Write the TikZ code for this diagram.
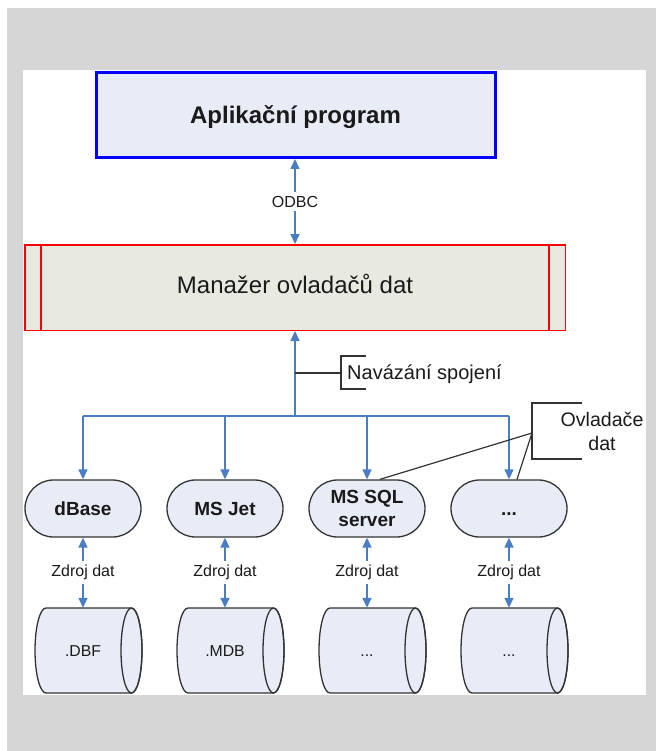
\documentclass[tikz,border=0pt]{standalone}
\usepackage{fontspec}
\setmainfont{Liberation Sans}
\usetikzlibrary{arrows.meta,shapes.misc}
\definecolor{bggray}{HTML}{D6D6D6}
\definecolor{appfill}{HTML}{E8ECF6}
\definecolor{mgrfill}{HTML}{E8E9E0}
\definecolor{linkblue}{HTML}{4A7EC0}
\definecolor{shapefill}{HTML}{E8ECF6}
\definecolor{shapedraw}{HTML}{333333}
\definecolor{inkcol}{HTML}{1A1A1A}
\newcommand{\dbcyl}[4]{%
  \path[fill=shapefill,draw=shapedraw,line width=1.3pt]
    (#1-37,608) -- (#1+48.5,608)
    arc[start angle=90,end angle=-90,x radius=10.5pt,y radius=42.5pt]
    -- (#1-37,693)
    arc[start angle=270,end angle=90,x radius=11pt,y radius=42.5pt] -- cycle;
  \draw[shapedraw,line width=1.3pt] (#1+48.5,650.5) ellipse[x radius=10.5pt,y radius=42.5pt];
  \node[cylbody] (#2) at (#1+5.75,650.5) {};
  \node[cyltext] (#3) at (#1,651) {#4};
}
\begin{document}
\begin{tikzpicture}[x=1pt,y=-1pt,
  appbox/.style={draw=blue,line width=3pt,fill=appfill,minimum width=399pt,minimum height=85pt,inner sep=0pt,text height=17.2pt,text depth=0pt,font=\fontsize{24}{28}\selectfont\bfseries,text=inkcol},
  mgrbox/.style={draw=red,line width=1.5pt,fill=mgrfill,minimum width=540.5pt,minimum height=85.5pt,inner sep=0pt,text height=17pt,text depth=5.5pt,font=\fontsize{24}{28}\selectfont,text=inkcol},
  drvpill/.style={rounded rectangle,draw=shapedraw,line width=1.3pt,fill=shapefill,minimum width=116pt,minimum height=57pt,inner sep=0pt,align=center,font=\fontsize{19}{23}\selectfont\bfseries,text=inkcol},
  cylbody/.style={rectangle,draw=none,minimum width=85.5pt,minimum height=85pt,inner sep=0pt},
  cyltext/.style={inner sep=0pt,font=\fontsize{15.8}{18}\selectfont,text=inkcol},
  flowline/.style={draw=linkblue,line width=1.6pt},
  flowarrow/.style={flowline,-{Triangle[width=9pt,length=10pt]}},
  dualarrow/.style={flowline,{Triangle[width=9pt,length=10pt]}-{Triangle[width=9pt,length=10pt]}},
  flowlabel/.style={fill=white,inner sep=4pt,font=\fontsize{16}{19}\selectfont,text=inkcol},
  callout/.style={draw=shapedraw,line width=1.2pt},
  notetext/.style={inner sep=0pt,font=\fontsize{20}{24}\selectfont,text=inkcol}
]
\useasboundingbox (0,0) rectangle (656,751);
\fill[white] (0,0) rectangle (656,751);
\fill[bggray] (7,8) rectangle (656,751);
\fill[white] (23,70) rectangle (646,695);

% main boxes
\node[appbox] (app) at (295.5,115) {Aplikační program};
\node[mgrbox] (mgr) at (295,287.5) {Manažer ovladačů dat};
\draw[red,line width=1.5pt] ([xshift=17pt]mgr.north west) -- ([xshift=17pt]mgr.south west);
\draw[red,line width=1.5pt] ([xshift=-17pt]mgr.north east) -- ([xshift=-17pt]mgr.south east);

% drivers
\node[drvpill] (dbase) at (83,508.5) {dBase};
\node[drvpill] (msjet) at (225,508.5) {MS Jet};
\node[drvpill] (mssql) at (367,508.5) {MS SQL\\server};
\node[drvpill] (drvmore) at (509,508.5) {\vphantom{dB}...};

% data stores
\dbcyl{83}{cylA}{dbf}{.DBF}
\dbcyl{225}{cylB}{mdb}{.MDB}
\dbcyl{367}{cylC}{dsc}{\vphantom{D}...}
\dbcyl{509}{cylD}{dsd}{\vphantom{D}...}

% connectors
\draw[dualarrow] (app.south -| mgr.north) -- node[flowlabel]{ODBC} (mgr.north);
\coordinate (bus) at (295,416);
\draw[flowarrow] (bus) -- (mgr.south);
\draw[flowline] (dbase.north |- bus) -- (drvmore.north |- bus);
\foreach \d in {dbase,msjet,mssql,drvmore}
  \draw[flowarrow] (\d.north |- bus) -- (\d.north);
\draw[dualarrow] (dbase.south) -- node[flowlabel]{Zdroj dat} (dbase.south |- cylA.north);
\draw[dualarrow] (msjet.south) -- node[flowlabel]{Zdroj dat} (msjet.south |- cylB.north);
\draw[dualarrow] (mssql.south) -- node[flowlabel]{Zdroj dat} (mssql.south |- cylC.north);
\draw[dualarrow] (drvmore.south) -- node[flowlabel]{Zdroj dat} (drvmore.south |- cylD.north);

% annotation: Navazani spojeni
\coordinate (navtap) at (295,373);
\coordinate (navbr) at (341,373);
\node[notetext,anchor=base west] (navnote) at (347,379) {Navázání spojení};
\draw[callout] (navtap) -- (navbr);
\draw[callout] (366,356) -- (341,356) -- (341,389) -- (366,389);

% annotation: Ovladace dat
\node[notetext,align=center,font=\fontsize{19.6}{24}\selectfont] (drvnote) at (602,431) {Ovladače\\dat};
\coordinate (drvbr) at (532,433);
\draw[callout] (582,403) -- (532,403) -- (532,459) -- (582,459);
\draw[callout] (drvbr) -- ([xshift=13pt]mssql.north);
\draw[callout] (drvbr) -- ([xshift=8pt]drvmore.north);
\end{tikzpicture}
\end{document}
